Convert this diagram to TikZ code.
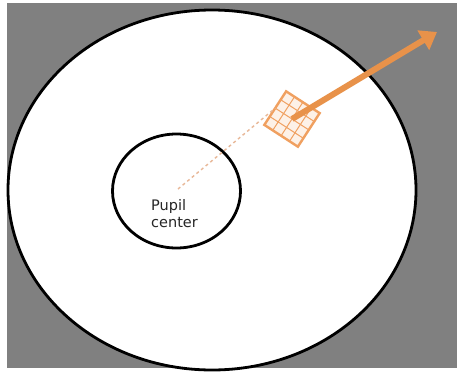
\documentclass[tikz,border=0pt]{standalone}
\usepackage{fontspec}
\setmainfont{DejaVu Sans}
\usetikzlibrary{arrows.meta}
\definecolor{bggray}{HTML}{808080}
\definecolor{patchor}{HTML}{F0A060}
\definecolor{arrowor}{HTML}{E8924A}
\definecolor{dashc}{HTML}{E8B898}
\tikzset{
  ring/.style={draw=black, line width=2.8pt, fill=white},
  lbl/.style={font=\fontsize{14.5}{17.5}\selectfont, align=left, text=black!85, inner sep=0pt},
}
\begin{document}
\begin{tikzpicture}[x=1pt,y=-1pt]
\useasboundingbox (0,0) rectangle (457,375);
\fill[white] (0,0) rectangle (457,375);
\fill[bggray] (7,3) rectangle (457,368);
% outer iris ellipse
\draw[ring] (212,190) ellipse [x radius=204, y radius=180];
% pupil
\draw[ring] (176.5,191) ellipse [x radius=64, y radius=57];
\coordinate (pc) at (178,189);
\node[lbl, anchor=north west] (lab) at (151,199) {Pupil\\center};
% patch
\begin{scope}[shift={(292,119)}, rotate=-33]
  \fill[patchor!15] (-20,-20) rectangle (20,20);
  \foreach \t in {-10,0,10} {
    \draw[patchor, line width=1pt] (\t,-20) -- (\t,20);
    \draw[patchor, line width=1pt] (-20,\t) -- (20,\t);
  }
  \draw[patchor, line width=2.4pt] (-20,-20) rectangle (20,20);
  \coordinate (patch) at (0,0);
  \coordinate (patchedge) at (-20,0);
\end{scope}
\draw[dashc, dashed, line width=1.4pt] (pc) -- (patchedge);
\coordinate (tip) at (437,32);
\draw[arrowor, line width=6pt, -{Triangle[length=16pt,width=22pt]}] (patch) -- (tip);
\end{tikzpicture}
\end{document}
